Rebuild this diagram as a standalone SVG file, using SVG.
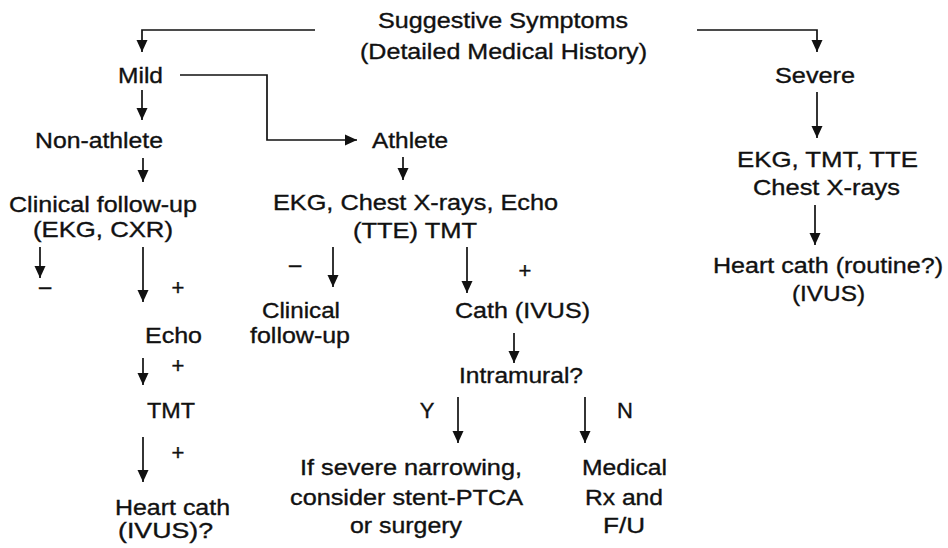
<svg xmlns="http://www.w3.org/2000/svg" width="948" height="548" viewBox="0 0 948 548">
<style>
text{font-family:"Liberation Sans",Arial,sans-serif;font-size:22px;fill:#111;stroke:#111;stroke-width:0.35;text-anchor:middle}
.c path{fill:none;stroke:#111;stroke-width:1.7}
</style>
<defs>
<marker id="ah" markerUnits="userSpaceOnUse" markerWidth="12" markerHeight="12" refX="12" refY="6" orient="auto"><path d="M0,0.5 L12,6 L0,11.5 z" fill="#111"/></marker>
</defs>
<rect width="948" height="548" fill="#fff"/>
<g class="c" id="connectors">
<path d="M315,30 H142 V52" marker-end="url(#ah)"/>
<path d="M697,30 H817 V52" marker-end="url(#ah)"/>
<path d="M142,90 V120" marker-end="url(#ah)"/>
<path d="M180,75 H267 V140 H357" marker-end="url(#ah)"/>
<path d="M817,92 V138" marker-end="url(#ah)"/>
<path d="M143,158 V182" marker-end="url(#ah)"/>
<path d="M403,157 V180" marker-end="url(#ah)"/>
<path d="M40,247 V278" marker-end="url(#ah)"/>
<path d="M143,247 V302" marker-end="url(#ah)"/>
<path d="M143,358 V385" marker-end="url(#ah)"/>
<path d="M143,437 V482" marker-end="url(#ah)"/>
<path d="M333,247 V287" marker-end="url(#ah)"/>
<path d="M467,247 V293" marker-end="url(#ah)"/>
<path d="M514,333 V363" marker-end="url(#ah)"/>
<path d="M458,397 V443" marker-end="url(#ah)"/>
<path d="M585,397 V443" marker-end="url(#ah)"/>
<path d="M815,205 V245" marker-end="url(#ah)"/>
</g>
<g id="symptoms"><text x="503" y="28" textLength="250" lengthAdjust="spacingAndGlyphs">Suggestive Symptoms</text><text x="503.5" y="59" textLength="287" lengthAdjust="spacingAndGlyphs">(Detailed Medical History)</text></g>
<g id="mild"><text x="140.5" y="83" textLength="45" lengthAdjust="spacingAndGlyphs">Mild</text></g>
<g id="severe"><text x="815" y="83" textLength="80" lengthAdjust="spacingAndGlyphs">Severe</text></g>
<g id="nonathlete"><text x="99" y="148" textLength="128" lengthAdjust="spacingAndGlyphs">Non-athlete</text></g>
<g id="athlete"><text x="410" y="148" textLength="76" lengthAdjust="spacingAndGlyphs">Athlete</text></g>
<g id="clinical1"><text x="103" y="212" textLength="188" lengthAdjust="spacingAndGlyphs">Clinical follow-up</text><text x="103" y="237" textLength="140" lengthAdjust="spacingAndGlyphs">(EKG, CXR)</text></g>
<g id="tests-athlete"><text x="415.5" y="210" textLength="285" lengthAdjust="spacingAndGlyphs">EKG, Chest X-rays, Echo</text><text x="415" y="238" textLength="124" lengthAdjust="spacingAndGlyphs">(TTE) TMT</text></g>
<g id="tests-severe"><text x="827.5" y="167" textLength="181" lengthAdjust="spacingAndGlyphs">EKG, TMT, TTE</text><text x="826.5" y="195" textLength="147" lengthAdjust="spacingAndGlyphs">Chest X-rays</text></g>
<g id="cath-severe"><text x="828" y="273" textLength="230" lengthAdjust="spacingAndGlyphs">Heart cath (routine?)</text><text x="828.5" y="301" textLength="73" lengthAdjust="spacingAndGlyphs">(IVUS)</text></g>
<g id="labels-left"><text x="45" y="294">–</text><text x="178" y="295">+</text><text x="178" y="373">+</text><text x="178" y="460">+</text></g>
<g id="echo"><text x="173.5" y="343" textLength="57" lengthAdjust="spacingAndGlyphs">Echo</text></g>
<g id="tmt"><text x="171" y="418" textLength="48" lengthAdjust="spacingAndGlyphs">TMT</text></g>
<g id="cath-mild"><text x="172.5" y="515" textLength="115" lengthAdjust="spacingAndGlyphs">Heart cath</text><text x="165.5" y="538" textLength="95" lengthAdjust="spacingAndGlyphs">(IVUS)?</text></g>
<g id="labels-mid"><text x="295" y="272">–</text><text x="525" y="278">+</text><text x="427" y="418">Y</text><text x="625" y="418">N</text></g>
<g id="clinical2"><text x="301" y="318" textLength="78" lengthAdjust="spacingAndGlyphs">Clinical</text><text x="300" y="343" textLength="100" lengthAdjust="spacingAndGlyphs">follow-up</text></g>
<g id="cath-ivus"><text x="522.5" y="318" textLength="135" lengthAdjust="spacingAndGlyphs">Cath (IVUS)</text></g>
<g id="intramural"><text x="521" y="383" textLength="124" lengthAdjust="spacingAndGlyphs">Intramural?</text></g>
<g id="stent"><text x="411" y="475" textLength="222" lengthAdjust="spacingAndGlyphs">If severe narrowing,</text><text x="406.5" y="505" textLength="233" lengthAdjust="spacingAndGlyphs">consider stent-PTCA</text><text x="406" y="533" textLength="112" lengthAdjust="spacingAndGlyphs">or surgery</text></g>
<g id="medical"><text x="624.5" y="475" textLength="85" lengthAdjust="spacingAndGlyphs">Medical</text><text x="624" y="505" textLength="78" lengthAdjust="spacingAndGlyphs">Rx and</text><text x="624" y="533" textLength="42" lengthAdjust="spacingAndGlyphs">F/U</text></g>
</svg>
